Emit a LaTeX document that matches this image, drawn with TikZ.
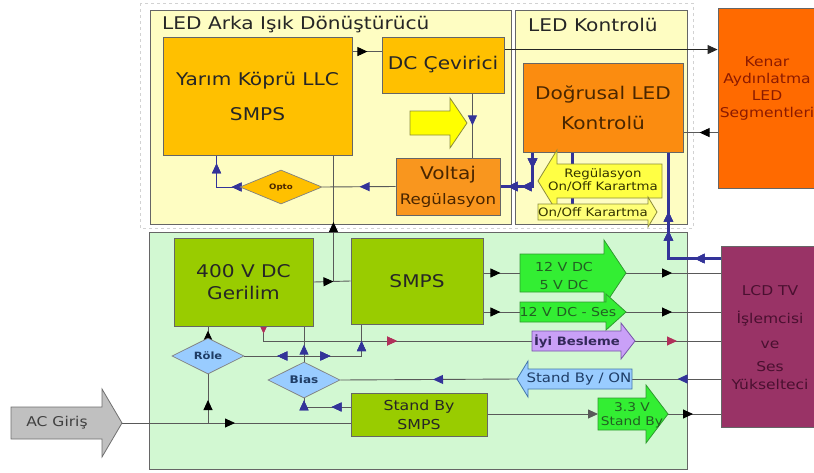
\documentclass[tikz,border=0pt]{standalone}
\usepackage{fontspec}
\setmainfont{DejaVu Sans}[FakeStretch=1.15]
\usepackage{tikz}
\usetikzlibrary{arrows.meta, shapes.geometric, decorations.markings}

\definecolor{cPanelY}{HTML}{FEFDC2}
\definecolor{cPanelG}{HTML}{D2F8D2}
\definecolor{cGold}{HTML}{FFC000}
\definecolor{cOrange}{HTML}{F9961E}
\definecolor{cOrangeB}{HTML}{FB8C10}
\definecolor{cEdge}{HTML}{FF6A00}
\definecolor{cLime}{HTML}{99CC00}
\definecolor{cGreen}{HTML}{33EE33}
\definecolor{cLilac}{HTML}{C9A0F7}
\definecolor{cSky}{HTML}{99CCFF}
\definecolor{cTV}{HTML}{993366}
\definecolor{cGrayA}{HTML}{C0C0C0}
\definecolor{cYel}{HTML}{FFFF00}
\definecolor{cYelM}{HTML}{FFFF44}
\definecolor{cYelL}{HTML}{FFFF77}
\definecolor{cNavy}{HTML}{333399}
\definecolor{cRed}{HTML}{B0305A}
\definecolor{bOlive}{HTML}{8C8C3A}
\definecolor{bGreen}{HTML}{2E9A2E}
\definecolor{bLilac}{HTML}{7755AA}
\definecolor{bSky}{HTML}{4477AA}
\definecolor{bGray}{HTML}{707070}
\definecolor{tBrown}{HTML}{4A2600}
\definecolor{tEdge}{HTML}{8B1A00}
\definecolor{tTV}{HTML}{4A1030}
\definecolor{tGreen}{HTML}{225F22}
\definecolor{tOlive}{HTML}{333300}
\definecolor{tLilac}{HTML}{33285A}
\definecolor{tSky}{HTML}{1F3D66}

\pgfdeclarelayer{back}
\pgfdeclarelayer{wires}
\pgfsetlayers{back,wires,main}

\newcommand{\fsz}[2]{\fontsize{#1}{#2}\selectfont}
% block arrow: name, fill, tail x, head x, tip x, mid y, body half, head half, border
\newcommand{\blockarrow}[9]{%
  \filldraw[fill=#2, draw=#9, line width=0.8pt] (#3,#6-#7) -- (#4,#6-#7) -- (#4,#6-#8) -- (#5,#6)
    -- (#4,#6+#8) -- (#4,#6+#7) -- (#3,#6+#7) -- cycle;
  \coordinate (#1-in) at (#3,#6);
  \coordinate (#1-out) at (#5,#6);}

\begin{document}
\begin{tikzpicture}[x=1pt, y=-1pt,
    panel/.style={draw=black!60, line width=0.9pt, inner sep=0pt},
    box/.style={draw=black!60, line width=0.9pt, inner sep=0pt, align=center, text=black!85},
    dia/.style={diamond, shape aspect=2, draw=black!50, line width=0.7pt, inner sep=0pt, align=center},
    ttl/.style={font=\fsz{17.5}{21}, text=black!85, inner sep=0pt},
    lbl/.style={align=center, inner sep=0pt},
    wire/.style={draw=black!65, line width=0.9pt},
    bwire/.style={draw=cNavy, line width=1pt},
    fatwire/.style={draw=cNavy, line width=2.2pt},
    am/.style={postaction={decorate}, decoration={markings, mark=at position #1 with {\arrow{Triangle[length=10pt,width=9pt,color=black]}}}},
    bm/.style={postaction={decorate}, decoration={markings, mark=at position #1 with {\arrow{Triangle[length=10pt,width=9pt,color=cNavy]}}}},
    bmr/.style={postaction={decorate}, decoration={markings, mark=at position #1 with {\arrowreversed{Triangle[length=10pt,width=9pt,color=cNavy]}}}},
    rm/.style={postaction={decorate}, decoration={markings, mark=at position #1 with {\arrow{Triangle[length=10pt,width=9pt,color=cRed]}}}},
]
\useasboundingbox (0,0) rectangle (814,472);

\begin{pgfonlayer}{back}
\fill[white] (0,0) rectangle (814,472);
\draw[gray!35, dashed, line width=0.8pt] (140,3) rectangle (693,228);
\node[panel, fill=cPanelY, minimum width=361pt, minimum height=214pt] (conv) at (330.5,117) {};
\node[panel, fill=cPanelY, minimum width=172pt, minimum height=214pt] (ledk) at (601,117) {};
\node[panel, fill=cPanelG, minimum width=538pt, minimum height=237pt] (psu) at (418,350.5) {};
\end{pgfonlayer}

% LED backlight converter
\node[ttl, anchor=base west] (convttl) at (162,29) {LED Arka Işık Dönüştürücü};
\node[box, fill=cGold, minimum width=189pt, minimum height=118pt, font=\fsz{17.5}{35}] (llc) at (257.5,96) {Yarım Köprü LLC\\SMPS};
\node[box, fill=cGold, minimum width=122pt, minimum height=56pt, font=\fsz{17.5}{21}] (dc) at (443,65) {DC Çevirici};
\blockarrow{dim}{cYel}{410}{450}{467}{123}{12}{25}{bOlive}
\node[box, fill=cOrange, minimum width=104pt, minimum height=57pt, text=tBrown, font=\fsz{17.5}{25}] (reg) at (448,186.5) {Voltaj\\\fsz{14.5}{25}Regülasyon};
\node[dia, fill=cGold, minimum width=82pt, minimum height=34pt, font=\bfseries\fsz{7.5}{9}, text=tBrown] (opto) at (281,187) {Opto};

% LED control
\node[ttl, anchor=base west] (ledkttl) at (528,31) {LED Kontrolü};
\node[box, fill=cOrangeB, minimum width=160pt, minimum height=89pt, text=tBrown, font=\fsz{17.5}{30}] (lin) at (603,107.5) {Doğrusal LED\\Kontrolü};
\blockarrow{regarr}{cYelM}{662}{557}{538}{181}{17}{31}{bOlive}
\node[lbl, font=\fsz{11.6}{13.5}, text=tOlive] (regtxt) at (603,180) {Regülasyon\\On/Off Karartma};
\blockarrow{onoff}{cYelL}{538}{648}{657}{212}{8}{15}{bOlive}
\node[lbl, font=\fsz{11.6}{14}, text=tOlive] (onofftxt) at (593,212.5) {On/Off Karartma};

\node[box, fill=cEdge, minimum width=104pt, minimum height=180pt] (edge) at (770,98) {};
\node[lbl, font=\fsz{13.5}{17}, text=tEdge] (edgetxt) at (767,88) {Kenar\\Aydınlatma\\LED\\Segmentleri};

% power board
\node[box, fill=cLime, minimum width=139pt, minimum height=88pt, font=\fsz{17.5}{22}] (hv) at (243.5,282) {400 V DC\\Gerilim};
\node[box, fill=cLime, minimum width=132pt, minimum height=86pt, font=\fsz{17.5}{21}] (smps) at (417,281) {SMPS};
\node[box, fill=cLime, minimum width=136pt, minimum height=43pt, font=\fsz{13.7}{19}] (sby) at (419,414.5) {Stand By\\SMPS};
\node[dia, fill=cSky, minimum width=72pt, minimum height=36pt, font=\bfseries\fsz{10}{12}, text=tSky] (rly) at (208,356) {Röle};
\node[dia, fill=cSky, minimum width=72pt, minimum height=36pt, font=\bfseries\fsz{10.5}{12}, text=tSky] (bias) at (304,380) {Bias};

\blockarrow{dc12}{cGreen}{520}{604}{626}{273}{19}{33}{bGreen}
\node[lbl, font=\fsz{12.4}{18}, text=tGreen] (dc12txt) at (564,276) {12 V DC\\5 V DC};
\blockarrow{ses}{cGreen}{520}{606}{626}{312}{10}{18}{bGreen}
\node[lbl, font=\fsz{12.3}{15}, text=tGreen] (sestxt) at (568,312.5) {12 V DC - Ses};
\blockarrow{good}{cLilac}{532}{621}{635}{341}{10}{18}{bLilac}
\node[lbl, font=\bfseries\fsz{11.5}{14}, text=tLilac] (goodtxt) at (577,341) {İyi Besleme};
\blockarrow{sbon}{cSky}{632}{528}{517}{379}{10}{18}{bSky}
\node[lbl, font=\fsz{13}{15}, text=tSky] (sbontxt) at (579,379) {Stand By / ON};
\blockarrow{v33}{cGreen}{598}{646}{668}{414}{16}{29}{bGreen}
\node[lbl, font=\fsz{12}{14}, text=tGreen] (v33txt) at (632,415) {3.3 V\\Stand By};

\blockarrow{ac}{cGrayA}{11}{102}{122}{423}{16}{34}{bGray}
\node[lbl, font=\fsz{13.5}{16}, text=black!75] (actxt) at (57,423) {AC Giriş};

\node[box, fill=cTV, minimum width=101pt, minimum height=181pt] (tv) at (771.5,336.5) {};
\node[lbl, font=\fsz{13.5}{22}, text=tTV] (tvtxt) at (770,338) {LCD TV\\[6pt]İşlemcisi\\[3pt]ve\\[1pt]Ses\\[-4pt]Yükselteci};

\begin{pgfonlayer}{wires}
% converter wiring
\draw[wire, am=15pt] ([yshift=-15pt]llc.north east) -- ([yshift=-15pt]dc.north west);
\coordinate (dcout) at ([yshift=-13pt]dc.north east);
\draw[wire, draw=black!85, -{Triangle[length=10pt,width=9pt]}] (dcout) -- (dcout -| edge.west);
\draw[wire, bm=32pt] ([xshift=-32pt]dc.south east) -- ([xshift=-28pt]reg.north east);
\draw[wire, bm=36pt] (reg.west) -- (opto.east);
\draw[bwire, bm=8pt, bm=-8pt] (opto.west) -| ([xshift=54pt]llc.south west);
\coordinate (hvjoin) at ([xshift=20pt]hv.east);
\draw[wire, am=20pt] (hv.east) -- (smps.west);
\draw[wire, am=60pt] (hvjoin) -- (hvjoin |- llc.south);
% LED control wiring
\draw[wire, am=18pt] ([yshift=-125pt]edge.north west) -- ([yshift=-70pt]lin.north east);
\draw[fatwire, bm=16pt, bm=45pt, bm=59pt] ([xshift=10pt]lin.south west) |- (reg.east);
\draw[fatwire] ([xshift=50pt]lin.south west) -- ++(0,52);
\draw[fatwire, bm=26pt, bm=80pt, bm=99pt] ([yshift=-13pt]tv.north west) -| ([xshift=-15pt]lin.south east);
% power board wiring
\draw[wire, am=17pt] (smps.east |- dc12-in) -- (dc12-in);
\draw[wire, am=17pt] (smps.east |- ses-in) -- (ses-in);
\draw[wire, am=46pt] (dc12-out) -- (dc12-out -| tv.west);
\draw[wire, am=46pt] (ses-out) -- (ses-out -| tv.west);
\draw[wire, rm=7pt, rm=148pt] ([xshift=90pt]hv.south west) |- (good-in);
\draw[wire, rm=42pt] (good-out) -- (good-out -| tv.west);
\draw[wire, am=7pt] (rly.north) -- (rly.north |- hv.south);
\draw[wire, bmr=33pt, bm=86pt, bm=132pt] (rly.east) -| ([xshift=11pt]smps.south west);
\draw[wire, bm=17pt] (bias.north) -- (bias.north |- hv.south);
\draw[wire, bm=19pt, bm=-2pt] ([yshift=7.5pt]sby.west) -| (bias.south);
\draw[wire, bm=43pt] (tv.west |- sbon-in) -- (sbon-in);
\draw[wire, bm=84pt] (sbon-out) -- (bias.east);
\draw[wire, am=113pt] (ac-out) -- (ac-out -| sby.west);
\draw[wire, am=23pt] (ac-out -| rly.south) -- (rly.south);
\draw[wire, -{Triangle[length=10pt,width=9pt]}] (sby.east |- v33-in) -- (v33-in);
\draw[wire, am=25pt] (v33-out) -- (v33-out -| tv.west);
\end{pgfonlayer}
\end{tikzpicture}
\end{document}
